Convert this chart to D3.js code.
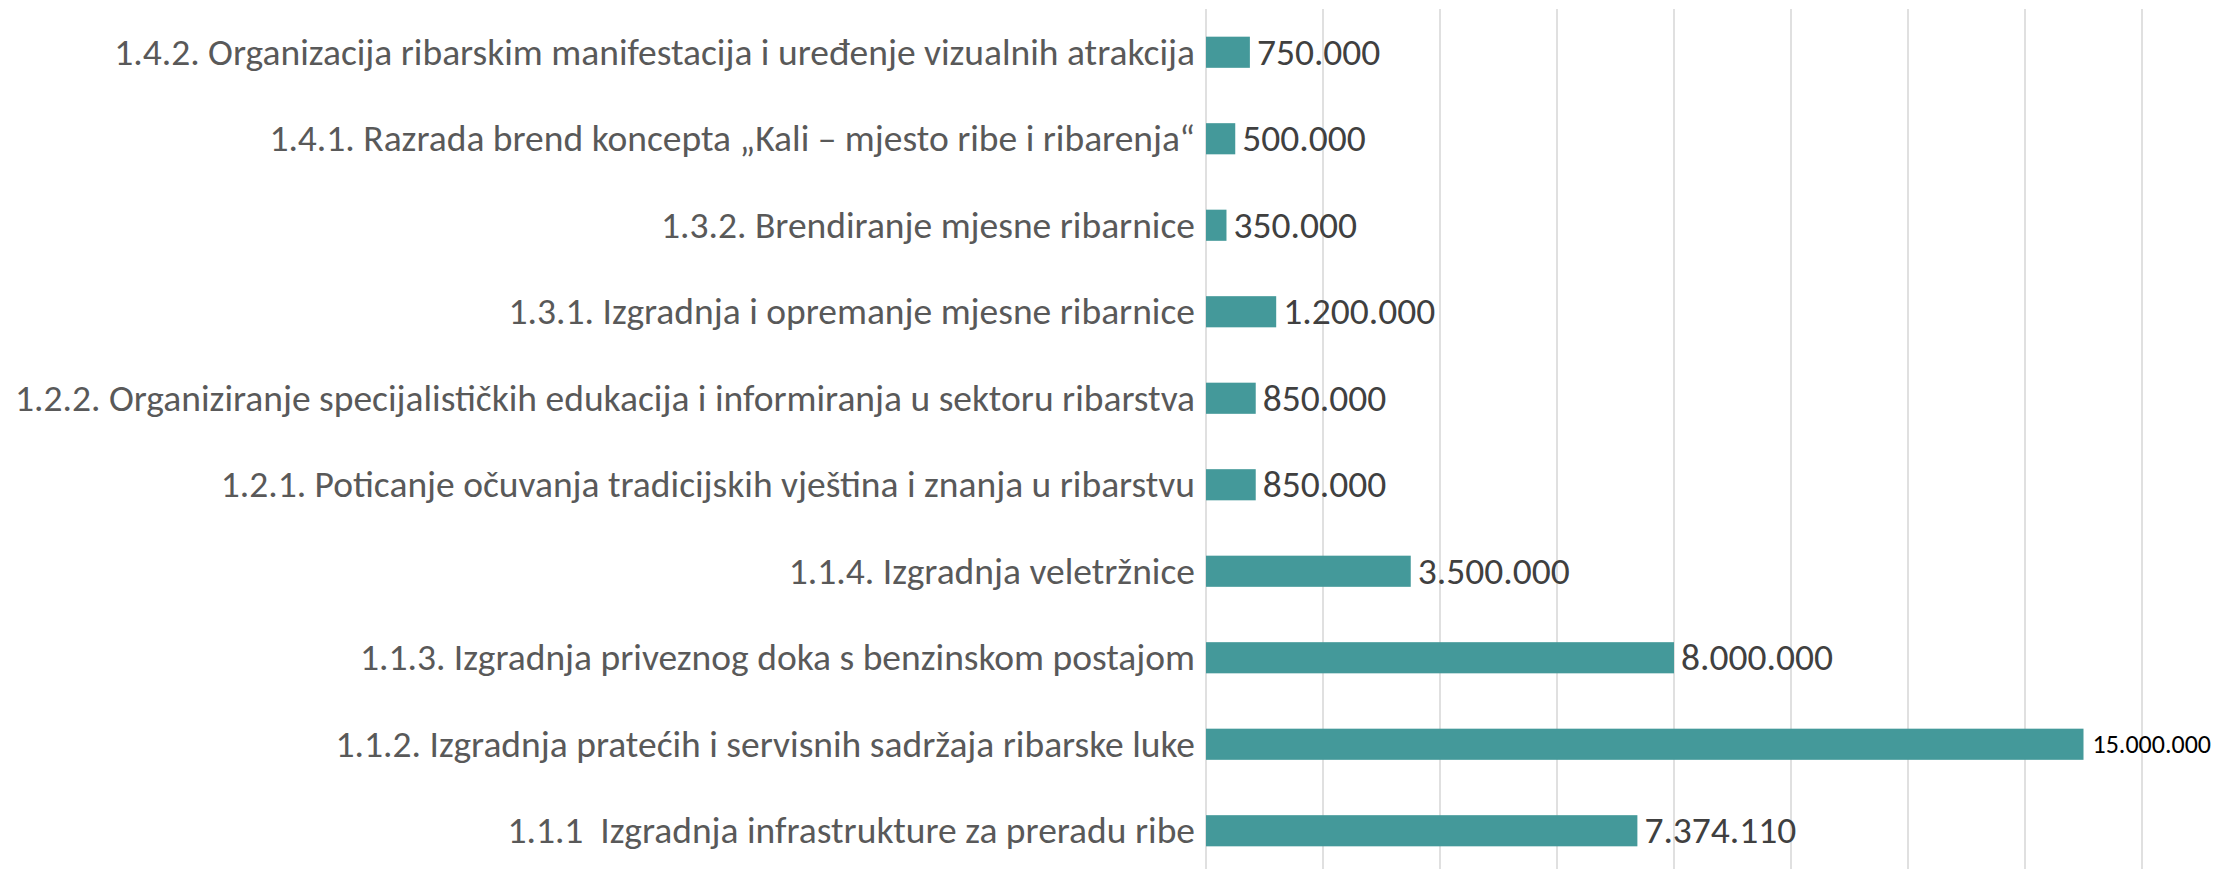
<!DOCTYPE html>
<html>
<head>
<meta charset="utf-8">
<script src="https://cdn.jsdelivr.net/npm/d3@7"></script>
<style>
  body { margin: 0; background: #fff; }
  text { font-family: Carlito, Calibri, Lato, sans-serif; white-space: pre; }
</style>
</head>
<body>
<script>
let categories = [
    '1.4.2. Organizacija ribarskim manifestacija i uređenje vizualnih atrakcija',
    '1.4.1. Razrada brend koncepta „Kali – mjesto ribe i ribarenja“',
    '1.3.2. Brendiranje mjesne ribarnice',
    '1.3.1. Izgradnja i opremanje mjesne ribarnice',
    '1.2.2. Organiziranje specijalističkih edukacija i informiranja u sektoru ribarstva',
    '1.2.1. Poticanje očuvanja tradicijskih vještina i znanja u ribarstvu',
    '1.1.4. Izgradnja veletržnice',
    '1.1.3. Izgradnja priveznog doka s benzinskom postajom',
    '1.1.2. Izgradnja pratećih i servisnih sadržaja ribarske luke',
    '1.1.1  Izgradnja infrastrukture za preradu ribe'
]
let values = [750000, 500000, 350000, 1200000, 850000, 850000, 3500000, 8000000, 15000000, 7374110]
let ticks = [0, 2000000, 4000000, 6000000, 8000000, 10000000, 12000000, 14000000, 16000000]

let width = 2219
let height = 869
let margin = { top: 9, bottom: -5, left: 1206, right: 77 }

let data = categories.map((c, i) => ({ name: c, value: values[i] }))

let svg = d3.select('body')
    .append('svg')
        .attr('width', width)
        .attr('height', height)

let x = d3.scaleLinear()
    .domain([0, 16000000])
    .range([margin.left, width - margin.right])

let y = d3.scaleBand()
    .domain(categories)
    .range([margin.top, height - margin.bottom])
    .paddingInner(0.64)
    .paddingOuter(0.32)

let fmt = v => d3.format(',')(v).replace(/,/g, '.')

// vertical grid
svg.append('g')
    .selectAll('line')
    .data(ticks)
    .enter()
    .append('line')
        .attr('x1', d => x(d))
        .attr('x2', d => x(d))
        .attr('y1', margin.top)
        .attr('y2', height - margin.bottom)
        .attr('stroke', '#d9d9d9')
        .attr('stroke-width', 1.6)

// category labels
svg.append('g')
    .selectAll('text')
    .data(data)
    .enter()
    .append('text')
        .attr('x', x(0) - 11)
        .attr('y', d => y(d.name) + y.bandwidth() / 2)
        .attr('dy', '0.33em')
        .attr('text-anchor', 'end')
        .attr('fill', '#595959')
        .style('font-size', '37.5px')
        .text(d => d.name)

// bars
svg.append('g')
    .selectAll('rect')
    .data(data)
    .enter()
    .append('rect')
        .attr('x', x(0))
        .attr('y', d => y(d.name))
        .attr('width', d => x(d.value) - x(0))
        .attr('height', y.bandwidth())
        .attr('fill', '#44999a')

// value labels
let maxValue = d3.max(values)
svg.append('g')
    .selectAll('text')
    .data(data)
    .enter()
    .append('text')
        .attr('x', d => x(d.value) + (d.value === maxValue ? 9 : 7))
        .attr('y', d => y(d.name) + y.bandwidth() / 2)
        .attr('dy', '0.33em')
        .attr('fill', d => d.value === maxValue ? '#000000' : '#404040')
        .style('font-size', d => d.value === maxValue ? '26px' : '37.5px')
        .text(d => fmt(d.value))
</script>
</body>
</html>
